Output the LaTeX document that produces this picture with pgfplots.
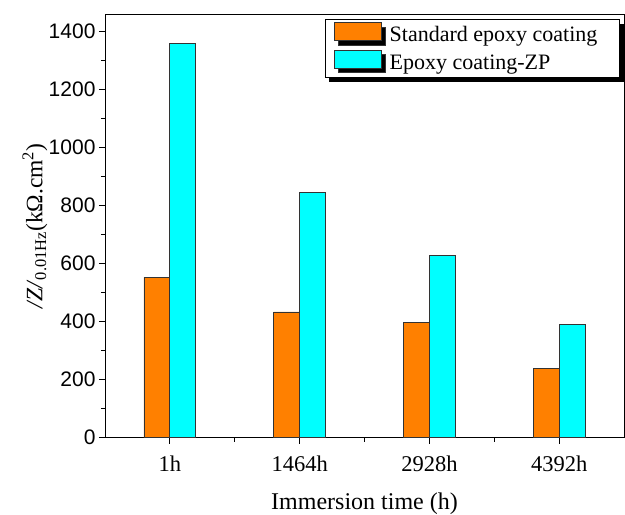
\documentclass[border=0pt]{standalone}
\usepackage{pgfplots}
\pgfplotsset{compat=1.18}
\usepackage{fontspec}
\setmainfont{Liberation Serif}
\newfontfamily\sansf{Liberation Sans}
\usetikzlibrary{shadows}
\definecolor{barorange}{RGB}{255,128,0}
\definecolor{barcyan}{RGB}{0,255,255}
\begin{document}
\begin{tikzpicture}
\begin{axis}[
  scale only axis, width=519pt, height=423.5pt,
  xmin=-0.5, xmax=3.5, ymin=0, ymax=1460,
  ybar, bar width=0.2,
  xtick={0,1,2,3}, xticklabels={1h,1464h,2928h,4392h},
  minor xtick={0.5,1.5,2.5},
  ytick={0,200,...,1400}, minor ytick={100,300,...,1300},
  tick align=outside, tick pos=left,
  major tick length=6pt, minor tick length=4pt,
  every tick/.style={black, line width=0.8pt},
  axis line style={line width=0.8pt},
  /pgf/number format/assume math mode=true,
  /pgf/number format/1000 sep={},
  yticklabel style={font=\sansf\fontsize{21}{25}\selectfont},
  xticklabel style={font=\fontsize{22.5}{27}\selectfont, yshift=-9pt},
  xlabel={Immersion time (h)},
  ylabel={\textit{/Z/}\textsubscript{0.01Hz}(kΩ.cm\textsuperscript{2})},
  xlabel style={font=\fontsize{24}{28}\selectfont, at={(axis description cs:0.5,0)}, anchor=center, yshift=-66pt},
  ylabel style={font=\fontsize{23.5}{28}\selectfont, at={(axis description cs:-0.135,0.5)}, anchor=center},
  legend style={at={(rel axis cs:0.992,0.988)}, anchor=north east, draw=black, line width=0.8pt, fill=white,
    font=\fontsize{22}{26}\selectfont, inner xsep=9pt, inner ysep=3pt, row sep=3pt,
    nodes={inner sep=0pt, text height=15pt, text depth=5pt},
    drop shadow={shadow xshift=4.5pt, shadow yshift=-4.5pt, fill=black, opacity=1}},
  legend cell align=left,
]
\addplot[fill=barorange, draw=black!80, line width=0.8pt, bar shift=-0.1,
  legend image code/.code={\draw[fill=barorange, draw=black!80, line width=0.8pt] (0pt,-4pt) rectangle (47pt,14pt);}]
  coordinates {(0,552) (1,433) (2,397) (3,239)};
\addplot[fill=barcyan, draw=black!80, line width=0.8pt, bar shift=0.1,
  legend image code/.code={\draw[fill=barcyan, draw=black!80, line width=0.8pt] (0pt,-4pt) rectangle (47pt,14pt);}]
  coordinates {(0,1358) (1,844) (2,628) (3,391)};
\legend{\hspace*{8pt}Standard epoxy coating\hspace*{13pt}, \hspace*{8pt}Epoxy coating-ZP}
\coordinate (sw) at (rel axis cs:0,0);
\coordinate (ne) at (rel axis cs:1,1);
\end{axis}
\pgfresetboundingbox
\path ([xshift=-105pt,yshift=-76.5pt]sw) rectangle ([xshift=1pt,yshift=14pt]ne);
\end{tikzpicture}
\end{document}
